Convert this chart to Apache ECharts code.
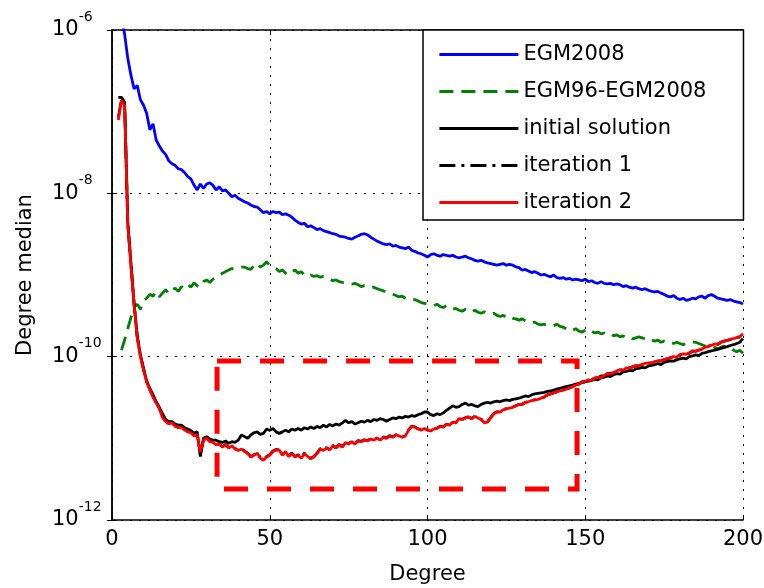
<!DOCTYPE html>
<html><head><meta charset="utf-8">
<script src="https://cdn.jsdelivr.net/npm/echarts@6/dist/echarts.min.js"></script>
<style>html,body{margin:0;padding:0;background:#fff}#c{width:764px;height:588px}</style>
</head><body><div id="c"></div>
<script>
// Degrees 2..200
const degreeFirst = 2;
const degreeLast = 200;
const seriesNames = ['EGM2008', 'EGM96-EGM2008', 'initial solution', 'iteration 1', 'iteration 2'];
const xTickValues = [0, 50, 100, 150, 200];
const yTickExponents = [-12, -10, -8, -6];
const xAxisTitle = 'Degree';
const yAxisTitle = 'Degree median';
// highlighted region (degree range and value range)
const boxDegrees = [33.3, 147.4];
const boxValues = [8.85e-11, 2.4e-12];

const egm2008 = [
  null, 1.4e-6, 8.9e-7, 4.5e-7, 2.8e-7, 1.9e-7, 2.1e-7, 1.4e-7,
  1.2e-7, 9.5e-8, 6.0e-8, 7.1e-8, 4.5e-8, 3.8e-8, 3.3e-8, 3.0e-8, 2.5e-8, 2.3e-8,
  2.2e-8, 2.0e-8, 1.95e-8, 1.8e-8, 1.6e-8, 1.5e-8, 1.26e-8, 1.1e-8, 1.3e-8, 1.15e-8,
  1.3e-8, 1.35e-8, 1.25e-8, 1.1e-8, 1.2e-8, 1.07e-8, 1.1e-8, 1.0e-8, 9.1e-9, 9.5e-9,
  8.7e-9, 8.3e-9, 7.9e-9, 7.6e-9, 7.2e-9, 6.9e-9, 6.8e-9, 6.3e-9, 5.8e-9, 6.0e-9,
  5.6e-9, 6.0e-9, 5.8e-9, 5.9e-9, 5.5e-9, 5.6e-9, 5.4e-9, 5.1e-9, 4.7e-9, 4.4e-9,
  4.2e-9, 4.3e-9, 3.9e-9, 4.0e-9, 3.8e-9, 3.6e-9, 3.7e-9, 3.5e-9, 3.4e-9, 3.3e-9,
  3.2e-9, 3.15e-9, 3.0e-9, 2.95e-9, 2.9e-9, 2.8e-9, 2.75e-9, 2.9e-9, 3.0e-9, 3.15e-9,
  3.2e-9, 3.1e-9, 2.9e-9, 2.75e-9, 2.6e-9, 2.5e-9, 2.4e-9, 2.35e-9, 2.4e-9, 2.25e-9,
  2.3e-9, 2.2e-9, 2.15e-9, 2.1e-9, 2.2e-9, 2.0e-9, 1.95e-9, 1.86e-9, 1.82e-9, 1.74e-9,
  1.66e-9, 1.78e-9, 1.82e-9, 1.74e-9, 1.7e-9, 1.78e-9, 1.74e-9, 1.7e-9, 1.74e-9, 1.66e-9,
  1.62e-9, 1.66e-9, 1.7e-9, 1.62e-9, 1.58e-9, 1.51e-9, 1.48e-9, 1.51e-9, 1.45e-9, 1.41e-9,
  1.38e-9, 1.35e-9, 1.32e-9, 1.35e-9, 1.38e-9, 1.32e-9, 1.35e-9, 1.32e-9, 1.26e-9, 1.23e-9,
  1.15e-9, 1.17e-9, 1.12e-9, 1.07e-9, 1.1e-9, 1.05e-9, 1.0e-9, 1.02e-9, 9.8e-10, 9.5e-10,
  1.0e-9, 9.3e-10, 9.1e-10, 9.3e-10, 8.9e-10, 9.1e-10, 8.7e-10, 8.9e-10, 8.7e-10, 8.5e-10,
  8.9e-10, 8.3e-10, 8.5e-10, 8.1e-10, 7.9e-10, 8.3e-10, 7.9e-10, 7.8e-10, 7.9e-10, 7.6e-10,
  7.8e-10, 7.6e-10, 7.2e-10, 7.4e-10, 7.1e-10, 6.9e-10, 7.1e-10, 6.8e-10, 6.6e-10, 6.8e-10,
  6.5e-10, 6.3e-10, 6.2e-10, 6.3e-10, 6.0e-10, 5.8e-10, 5.5e-10, 5.4e-10, 5.6e-10, 5.2e-10,
  5.0e-10, 5.2e-10, 4.9e-10, 5.0e-10, 5.2e-10, 5.1e-10, 5.4e-10, 5.5e-10, 5.2e-10, 5.6e-10,
  5.75e-10, 5.5e-10, 5.2e-10, 5.1e-10, 5.0e-10, 4.9e-10, 5.0e-10, 4.8e-10, 4.7e-10, 4.6e-10,
  4.4e-10
];

const egm96Diff = [
  null, 1.2e-10, 1.6e-10, 2.2e-10, 3.0e-10, 4.0e-10, 4.4e-10, 3.8e-10,
  4.8e-10, 5.2e-10, 5.8e-10, 5.5e-10, 6.3e-10, 5.4e-10, 6.0e-10, 6.6e-10, 5.9e-10, 6.5e-10,
  6.9e-10, 6.3e-10, 7.2e-10, 6.8e-10, 7.6e-10, 7.1e-10, 8.0e-10, 7.4e-10, 7.1e-10, 8.3e-10,
  8.7e-10, 8.1e-10, 8.9e-10, 9.3e-10, 1.0e-9, 1.05e-9, 1.1e-9, 1.15e-9, 1.2e-9, 1.2e-9,
  1.23e-9, 1.25e-9, 1.25e-9, 1.2e-9, 1.17e-9, 1.3e-9, 1.4e-9, 1.25e-9, 1.32e-9, 1.45e-9,
  1.3e-9, 1.25e-9, 1.2e-9, 1.1e-9, 1.15e-9, 1.05e-9, 1.0e-9, 1.1e-9, 1.15e-9, 1.05e-9,
  1.1e-9, 1.0e-9, 9.5e-10, 1.0e-9, 9.6e-10, 9.8e-10, 9.4e-10, 9.6e-10, 9.2e-10, 8.9e-10,
  8.5e-10, 8.7e-10, 8.3e-10, 8.1e-10, 8.0e-10, 7.9e-10, 7.7e-10, 7.9e-10, 7.6e-10, 7.2e-10,
  7.4e-10, 7.1e-10, 7.0e-10, 7.1e-10, 6.8e-10, 6.6e-10, 6.4e-10, 6.2e-10, 5.9e-10, 5.8e-10,
  5.6e-10, 5.4e-10, 5.5e-10, 5.2e-10, 5.0e-10, 4.9e-10, 5.0e-10, 4.8e-10, 4.6e-10, 4.5e-10,
  4.4e-10, 4.3e-10, 4.2e-10, 4.4e-10, 4.1e-10, 4.0e-10, 4.2e-10, 3.9e-10, 3.8e-10, 3.9e-10,
  3.7e-10, 3.6e-10, 3.8e-10, 3.6e-10, 3.5e-10, 3.7e-10, 3.5e-10, 3.4e-10, 3.55e-10, 3.4e-10,
  3.3e-10, 3.4e-10, 3.2e-10, 3.1e-10, 3.2e-10, 3.0e-10, 3.1e-10, 2.95e-10, 2.9e-10, 2.8e-10,
  2.9e-10, 2.75e-10, 2.7e-10, 2.6e-10, 2.65e-10, 2.5e-10, 2.45e-10, 2.5e-10, 2.4e-10, 2.35e-10,
  2.4e-10, 2.5e-10, 2.35e-10, 2.3e-10, 2.2e-10, 2.25e-10, 2.1e-10, 2.2e-10, 2.05e-10, 2.0e-10,
  2.1e-10, 2.2e-10, 2.05e-10, 1.95e-10, 2.0e-10, 1.9e-10, 1.95e-10, 1.85e-10, 1.9e-10, 1.8e-10,
  1.85e-10, 1.75e-10, 1.8e-10, 1.7e-10, 1.75e-10, 1.65e-10, 1.7e-10, 1.75e-10, 1.7e-10, 1.65e-10,
  1.7e-10, 1.6e-10, 1.55e-10, 1.6e-10, 1.5e-10, 1.55e-10, 1.48e-10, 1.5e-10, 1.45e-10, 1.5e-10,
  1.45e-10, 1.4e-10, 1.45e-10, 1.5e-10, 1.52e-10, 1.5e-10, 1.45e-10, 1.4e-10, 1.35e-10, 1.3e-10,
  1.35e-10, 1.3e-10, 1.25e-10, 1.3e-10, 1.35e-10, 1.25e-10, 1.3e-10, 1.2e-10, 1.15e-10, 1.2e-10,
  1.1e-10
];

const initialSolution = [
  1.5e-7, 1.5e-7, 1.3e-7, 4.5e-9, 1.4e-9, 4.5e-10, 1.8e-10, 1.05e-10,
  7.2e-11, 5.0e-11, 4.1e-11, 3.4e-11, 2.8e-11, 2.4e-11, 2.0e-11, 1.7e-11, 1.6e-11, 1.6e-11,
  1.5e-11, 1.45e-11, 1.45e-11, 1.35e-11, 1.3e-11, 1.25e-11, 1.15e-11, 1.2e-11, 6.0e-12, 1.0e-11,
  1.05e-11, 9.8e-12, 9.5e-12, 9.5e-12, 9.1e-12, 8.9e-12, 9.3e-12, 8.7e-12, 9.1e-12, 8.9e-12,
  9.5e-12, 1.1e-11, 1.05e-11, 1.0e-11, 1.1e-11, 1.17e-11, 1.2e-11, 1.12e-11, 1.15e-11, 1.3e-11,
  1.25e-11, 1.32e-11, 1.2e-11, 1.15e-11, 1.2e-11, 1.26e-11, 1.2e-11, 1.3e-11, 1.26e-11, 1.32e-11,
  1.26e-11, 1.35e-11, 1.3e-11, 1.38e-11, 1.32e-11, 1.4e-11, 1.35e-11, 1.45e-11, 1.38e-11, 1.48e-11,
  1.42e-11, 1.5e-11, 1.45e-11, 1.55e-11, 1.66e-11, 1.55e-11, 1.6e-11, 1.5e-11, 1.55e-11, 1.62e-11,
  1.58e-11, 1.66e-11, 1.6e-11, 1.7e-11, 1.66e-11, 1.74e-11, 1.7e-11, 1.62e-11, 1.7e-11, 1.78e-11,
  1.74e-11, 1.82e-11, 1.78e-11, 1.86e-11, 1.82e-11, 1.9e-11, 1.86e-11, 1.95e-11, 2.0e-11, 2.1e-11,
  2.1e-11, 1.95e-11, 1.9e-11, 2.0e-11, 1.95e-11, 2.05e-11, 2.2e-11, 2.35e-11, 2.5e-11, 2.4e-11,
  2.45e-11, 2.6e-11, 2.7e-11, 2.55e-11, 2.6e-11, 2.5e-11, 2.45e-11, 2.6e-11, 2.7e-11, 2.75e-11,
  2.7e-11, 2.8e-11, 2.85e-11, 2.8e-11, 2.9e-11, 2.95e-11, 2.9e-11, 3.0e-11, 3.05e-11, 3.1e-11,
  3.2e-11, 3.3e-11, 3.25e-11, 3.4e-11, 3.5e-11, 3.55e-11, 3.6e-11, 3.65e-11, 3.75e-11, 3.8e-11,
  3.9e-11, 4.0e-11, 4.1e-11, 4.2e-11, 4.3e-11, 4.4e-11, 4.5e-11, 4.6e-11, 4.7e-11, 4.8e-11,
  4.9e-11, 5.0e-11, 5.1e-11, 5.3e-11, 5.2e-11, 5.5e-11, 5.6e-11, 5.8e-11, 5.7e-11, 6.0e-11,
  6.2e-11, 6.1e-11, 6.5e-11, 6.6e-11, 6.8e-11, 6.7e-11, 7.1e-11, 7.2e-11, 7.4e-11, 7.3e-11,
  7.7e-11, 7.8e-11, 8.0e-11, 8.2e-11, 8.0e-11, 8.5e-11, 8.7e-11, 8.9e-11, 8.8e-11, 9.2e-11,
  9.4e-11, 9.6e-11, 9.4e-11, 1.0e-10, 1.02e-10, 1.05e-10, 1.03e-10, 1.1e-10, 1.12e-10, 1.15e-10,
  1.18e-10, 1.2e-10, 1.23e-10, 1.26e-10, 1.3e-10, 1.33e-10, 1.37e-10, 1.4e-10, 1.45e-10, 1.5e-10,
  1.66e-10
];

const iteration1 = [
  8.5e-8, 1.4e-7, 1.25e-7, 4.3e-9, 1.36e-9, 4.4e-10, 1.75e-10, 1.02e-10,
  7.0e-11, 4.9e-11, 4.0e-11, 3.3e-11, 2.75e-11, 2.35e-11, 1.85e-11, 1.65e-11, 1.52e-11, 1.57e-11,
  1.42e-11, 1.38e-11, 1.4e-11, 1.28e-11, 1.22e-11, 1.2e-11, 1.1e-11, 1.12e-11, 6.5e-12, 9.6e-12,
  1.0e-11, 9.2e-12, 9.0e-12, 8.4e-12, 8.6e-12, 7.9e-12, 8.4e-12, 7.7e-12, 8.2e-12, 7.5e-12,
  7.2e-12, 7.5e-12, 7.0e-12, 6.6e-12, 6.0e-12, 6.3e-12, 6.7e-12, 5.8e-12, 5.5e-12, 6.0e-12,
  6.3e-12, 7.0e-12, 7.3e-12, 7.2e-12, 6.3e-12, 7.0e-12, 6.1e-12, 6.6e-12, 6.0e-12, 6.3e-12,
  5.8e-12, 6.6e-12, 6.1e-12, 5.7e-12, 6.0e-12, 6.6e-12, 7.5e-12, 7.2e-12, 7.7e-12, 7.3e-12,
  8.2e-12, 7.7e-12, 8.4e-12, 7.9e-12, 9.0e-12, 8.6e-12, 9.2e-12, 8.6e-12, 9.4e-12, 9.2e-12,
  9.6e-12, 9.4e-12, 9.9e-12, 9.6e-12, 1.01e-11, 9.6e-12, 1.04e-11, 1.01e-11, 1.08e-11, 1.04e-11,
  1.11e-11, 1.08e-11, 1.04e-11, 1.08e-11, 1.27e-11, 1.41e-11, 1.38e-11, 1.31e-11, 1.27e-11, 1.33e-11,
  1.27e-11, 1.24e-11, 1.31e-11, 1.33e-11, 1.41e-11, 1.38e-11, 1.49e-11, 1.46e-11, 1.59e-11, 1.56e-11,
  1.75e-11, 1.71e-11, 1.79e-11, 1.83e-11, 1.75e-11, 1.87e-11, 1.79e-11, 1.71e-11, 1.56e-11, 1.59e-11,
  1.79e-11, 2.01e-11, 2.11e-11, 2.11e-11, 2.25e-11, 2.31e-11, 2.36e-11, 2.41e-11, 2.51e-11, 2.61e-11,
  2.61e-11, 2.76e-11, 2.81e-11, 2.91e-11, 2.96e-11, 3.01e-11, 3.11e-11, 3.21e-11, 3.41e-11, 3.51e-11,
  3.61e-11, 3.71e-11, 3.81e-11, 3.91e-11, 4.01e-11, 4.11e-11, 4.31e-11, 4.51e-11, 4.61e-11, 4.91e-11,
  5.0e-11, 5.2e-11, 5.2e-11, 5.5e-11, 5.6e-11, 5.8e-11, 5.8e-11, 6.2e-11, 6.3e-11, 6.3e-11,
  6.7e-11, 6.9e-11, 6.9e-11, 7.3e-11, 7.3e-11, 7.5e-11, 7.7e-11, 7.7e-11, 8.0e-11, 8.2e-11,
  8.4e-11, 8.4e-11, 8.6e-11, 8.9e-11, 8.9e-11, 9.2e-11, 9.4e-11, 9.7e-11, 1.0e-10, 1.0e-10,
  1.05e-10, 1.08e-10, 1.08e-10, 1.1e-10, 1.17e-10, 1.17e-10, 1.2e-10, 1.24e-10, 1.3e-10, 1.35e-10,
  1.38e-10, 1.42e-10, 1.42e-10, 1.5e-10, 1.55e-10, 1.58e-10, 1.62e-10, 1.66e-10, 1.7e-10, 1.75e-10,
  1.9e-10
];

const iteration2 = [
  7.9e-8, 1.38e-7, 1.2e-7, 4.1e-9, 1.32e-9, 4.3e-10, 1.7e-10, 1.0e-10,
  6.9e-11, 4.8e-11, 3.9e-11, 3.2e-11, 2.7e-11, 2.3e-11, 1.8e-11, 1.6e-11, 1.5e-11, 1.55e-11,
  1.4e-11, 1.35e-11, 1.37e-11, 1.26e-11, 1.2e-11, 1.17e-11, 1.07e-11, 1.1e-11, 6.8e-12, 9.5e-12,
  1.0e-11, 9.1e-12, 8.9e-12, 8.3e-12, 8.5e-12, 7.8e-12, 8.3e-12, 7.6e-12, 8.1e-12, 7.4e-12,
  7.1e-12, 7.4e-12, 6.9e-12, 6.5e-12, 5.9e-12, 6.2e-12, 6.6e-12, 5.7e-12, 5.4e-12, 5.9e-12,
  6.2e-12, 6.9e-12, 7.2e-12, 7.2e-12, 6.2e-12, 6.9e-12, 6.0e-12, 6.5e-12, 5.9e-12, 6.2e-12,
  5.7e-12, 6.5e-12, 6.0e-12, 5.6e-12, 5.9e-12, 6.5e-12, 7.4e-12, 7.1e-12, 7.6e-12, 7.2e-12,
  8.1e-12, 7.6e-12, 8.3e-12, 7.8e-12, 8.9e-12, 8.5e-12, 9.1e-12, 8.5e-12, 9.3e-12, 9.1e-12,
  9.5e-12, 9.3e-12, 9.8e-12, 9.5e-12, 1.0e-11, 9.5e-12, 1.03e-11, 1.0e-11, 1.07e-11, 1.03e-11,
  1.1e-11, 1.07e-11, 1.03e-11, 1.07e-11, 1.26e-11, 1.4e-11, 1.37e-11, 1.3e-11, 1.26e-11, 1.32e-11,
  1.26e-11, 1.23e-11, 1.3e-11, 1.32e-11, 1.4e-11, 1.37e-11, 1.48e-11, 1.45e-11, 1.58e-11, 1.55e-11,
  1.74e-11, 1.7e-11, 1.78e-11, 1.82e-11, 1.74e-11, 1.86e-11, 1.78e-11, 1.7e-11, 1.55e-11, 1.58e-11,
  1.78e-11, 2.0e-11, 2.1e-11, 2.1e-11, 2.24e-11, 2.3e-11, 2.35e-11, 2.4e-11, 2.5e-11, 2.6e-11,
  2.6e-11, 2.75e-11, 2.8e-11, 2.9e-11, 2.95e-11, 3.0e-11, 3.1e-11, 3.2e-11, 3.4e-11, 3.5e-11,
  3.6e-11, 3.7e-11, 3.8e-11, 3.9e-11, 4.0e-11, 4.1e-11, 4.3e-11, 4.5e-11, 4.6e-11, 4.9e-11,
  5.0e-11, 5.2e-11, 5.1e-11, 5.5e-11, 5.6e-11, 5.5e-11, 5.9e-11, 6.2e-11, 6.1e-11, 6.4e-11,
  6.7e-11, 6.9e-11, 6.8e-11, 7.3e-11, 7.2e-11, 7.5e-11, 7.8e-11, 7.7e-11, 8.0e-11, 8.3e-11,
  8.4e-11, 8.3e-11, 8.7e-11, 8.9e-11, 8.8e-11, 9.2e-11, 9.5e-11, 9.7e-11, 1.0e-10, 9.9e-11,
  1.05e-10, 1.08e-10, 1.07e-10, 1.12e-10, 1.17e-10, 1.16e-10, 1.21e-10, 1.24e-10, 1.3e-10, 1.33e-10,
  1.38e-10, 1.43e-10, 1.41e-10, 1.5e-10, 1.55e-10, 1.58e-10, 1.64e-10, 1.66e-10, 1.72e-10, 1.76e-10,
  1.9e-10
];

const FONT = 'DejaVu Sans';
function pairs(values) {
  return values.map((v, i) => [degreeFirst + i, v]);
}
const allData = [egm2008, egm96Diff, initialSolution, iteration1, iteration2];
const colors = ['#0000ff', '#008000', '#000000', '#000000', '#ff0000'];
const dashes = ['solid', [14, 8], 'solid', [16, 6, 3, 6], 'solid'];

const series = allData.map((d, i) => ({
  name: seriesNames[i],
  type: 'line',
  data: pairs(d),
  showSymbol: false,
  symbol: 'none',
  connectNulls: false,
  clip: true,
  lineStyle: { color: colors[i], width: 2.8, type: dashes[i] },
  itemStyle: { color: colors[i] },
  z: 2 + i
}));
series[4].markArea = {
  silent: true,
  itemStyle: { color: 'rgba(0,0,0,0)', borderColor: '#ff0000', borderWidth: 5, borderType: [24, 19] },
  data: [[{ coord: [boxDegrees[0], boxValues[0]] }, { coord: [boxDegrees[1], boxValues[1]] }]]
};

const axisBlack = { lineStyle: { color: '#000', width: 1.5 } };
const expOf = v => Math.round(Math.log10(v));

const chart = echarts.init(document.getElementById('c'), null, { renderer: 'canvas' });
chart.setOption({
  animation: false,
  backgroundColor: '#fff',
  grid: { left: 112, top: 30, right: 21, bottom: 68, containLabel: false, outerBoundsMode: 'none' },
  legend: {
    orient: 'vertical', left: 423, top: 30,
    itemWidth: 79, itemHeight: 20, itemGap: 16,
    padding: [14, 37, 7, 15],
    borderColor: '#000', borderWidth: 1.5, backgroundColor: '#fff',
    textStyle: { fontFamily: FONT, fontSize: 21, color: '#000', lineHeight: 21 },
    itemStyle: { color: 'rgba(0,0,0,0)', borderWidth: 0, opacity: 0 },
    lineStyle: { width: 2.8 },
    data: seriesNames
  },
  xAxis: [{
    type: 'value', min: xTickValues[0], max: xTickValues[xTickValues.length - 1], interval: 50,
    position: 'bottom',
    name: xAxisTitle, nameLocation: 'middle', nameGap: 44,
    nameTextStyle: { fontFamily: FONT, fontSize: 21, color: '#000' },
    axisLine: axisBlack,
    axisTick: { inside: true, length: 5, lineStyle: { color: '#000' } },
    axisLabel: { fontFamily: FONT, fontSize: 21, color: '#000', margin: 9 },
    splitLine: { show: true, lineStyle: { color: '#000', type: [2, 7], width: 1 } }
  }, {
    type: 'value', min: xTickValues[0], max: xTickValues[xTickValues.length - 1], interval: 50,
    position: 'top',
    axisLine: axisBlack,
    axisTick: { inside: true, length: 5, lineStyle: { color: '#000' } },
    axisLabel: { show: false },
    splitLine: { show: false }
  }],
  yAxis: [{
    type: 'log', logBase: 10, min: 1e-12, max: 1e-6, interval: 2,
    name: yAxisTitle, nameLocation: 'middle', nameGap: 76,
    nameTextStyle: { fontFamily: FONT, fontSize: 21, color: '#000' },
    axisLine: axisBlack,
    axisTick: { inside: true, length: 5, lineStyle: { color: '#000' } },
    axisLabel: {
      align: 'left', margin: 60,
      formatter: v => { const e = expOf(v); return yTickExponents.includes(e) ? '{b|10}{s|' + e + '}' : ''; },
      rich: {
        b: { fontFamily: FONT, fontSize: 21, color: '#000' },
        s: { fontFamily: FONT, fontSize: 14, color: '#000', verticalAlign: 'bottom', padding: [0, 0, 26, 0] }
      }
    },
    splitLine: { show: true, lineStyle: { color: '#000', type: [2, 7], width: 1 } }
  }, {
    type: 'log', logBase: 10, min: 1e-12, max: 1e-6, interval: 2,
    position: 'right',
    axisLine: axisBlack,
    axisTick: { inside: true, length: 5, lineStyle: { color: '#000' } },
    axisLabel: { show: false },
    splitLine: { show: false }
  }],
  series: series
});
</script>
</body></html>
